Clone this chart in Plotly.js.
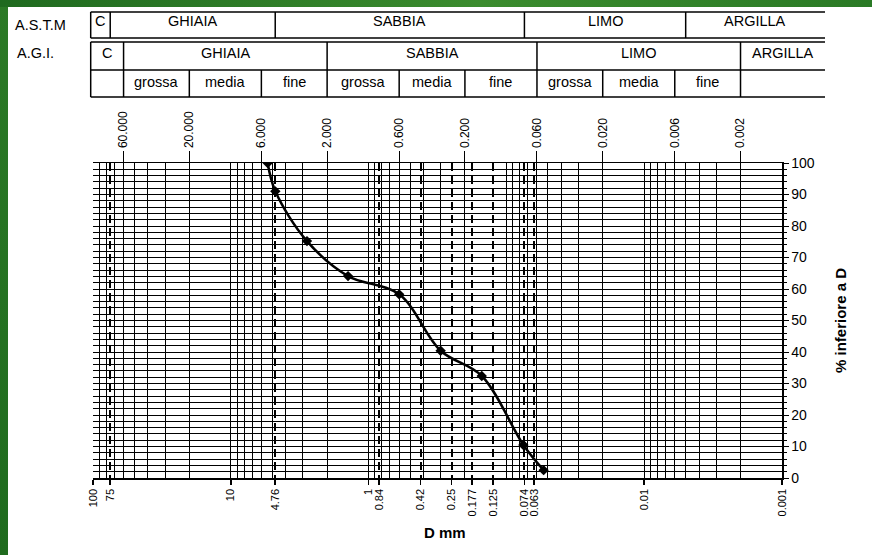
<!DOCTYPE html>
<html><head><meta charset="utf-8">
<script src="https://cdn.plot.ly/plotly-3.0.1.min.js"></script>
<style>
html,body{margin:0;padding:0;background:#fff;}
#wrap{position:relative;width:872px;height:555px;overflow:hidden;}
#chart{position:absolute;left:0;top:0;width:872px;height:555px;}
#gl{position:absolute;left:0;top:0;width:8px;height:555px;background:linear-gradient(#2c7a26,#1f6b1e);z-index:5}
#gt{position:absolute;left:0;top:0;width:872px;height:7px;background:linear-gradient(90deg,#1f6a1f,#3b8c2e 55%,#2a7a25);z-index:5}
</style></head><body>
<div id="wrap"><div id="chart"></div><div id="gl"></div><div id="gt"></div></div>
<script>
// ---- data ----
const diam    = [5.4, 4.75, 2.8, 1.41, 0.6, 0.3, 0.151, 0.0753, 0.0537];
const passing = [100, 91, 75.2, 64.1, 58.3, 40.4, 32.4, 10.5, 2.5];

const sieveVals = [100, 75, 10, 4.76, 1, 0.84, 0.42, 0.25, 0.177, 0.125, 0.074, 0.063, 0.01, 0.001];
const sieveText = ['100','75','10','4.76','1','0.84','0.42','0.25','0.177','0.125','0.074','0.063','0.01','0.001'];
const sieveDashed = [75, 4.76, 0.84, 0.42, 0.25, 0.177, 0.125, 0.074, 0.063];
const topVals = [60, 20, 6, 2, 0.6, 0.2, 0.06, 0.02, 0.006, 0.002];
const topText = ['60.000','20.000','6.000','2.000','0.600','0.200','0.060','0.020','0.006','0.002'];

const astmLabels = ['C','GHIAIA','SABBIA','LIMO','ARGILLA'];
const astmBounds = [75, 4.76, 0.074, 0.005];
const agiLabels = ['C','GHIAIA','SABBIA','LIMO','ARGILLA'];
const agiBounds = [60, 2, 0.06, 0.002];
const agiSubLabels = ['','grossa','media','fine','grossa','media','fine','grossa','media','fine',''];
const agiSubBounds = [60, 20, 6, 2, 0.6, 0.2, 0.06, 0.02, 0.006, 0.002];

// log grid positions
const gridVals = [];
for (let e = -3; e <= 1; e++) for (let k = 1; k <= 9; k++) gridVals.push(Number((k*Math.pow(10,e)).toPrecision(3)));
gridVals.push(100);

// ---- geometry helpers (plot area in pixels) ----
const W=872,H=555,L=93,R=782,T=163,B=478;
const px = x => (x-L)/(R-L);
const py = y => (B-y)/(B-T);
const dx = D => (2-Math.log10(D))/5;
const TL = px(90.7), TR = px(825);
const FS = 14.5;

const shapes = [];
const ann = [];
const line = (x0,y0,x1,y1) => shapes.push({type:'line',xref:'paper',yref:'paper',x0:x0,y0:y0,x1:x1,y1:y1,line:{color:'#000',width:1.5}});
const txt = (x,y,t,size,extra) => ann.push(Object.assign({xref:'paper',yref:'paper',x:x,y:y,text:t,showarrow:false,xanchor:'center',yanchor:'middle',font:{size:size,color:'#000'}},extra||{}));

// Row 1 ASTM
line(TL,py(12),TR,py(12)); line(TL,py(38),TR,py(38));
line(TL,py(12),TL,py(38));
astmBounds.forEach(b=>line(dx(b),py(12),dx(b),py(38)));
{
  const edges=[TL,...astmBounds.map(dx),TR];
  astmLabels.forEach((t,i)=>txt((edges[i]+edges[i+1])/2,py(21),t,FS));
}
// Row 2 AGI
line(TL,py(42),TR,py(42)); line(TL,py(70),TR,py(70)); line(TL,py(97),TR,py(97));
line(TL,py(42),TL,py(97));
agiBounds.forEach(b=>line(dx(b),py(42),dx(b),py(70)));
{
  const edges=[TL,...agiBounds.map(dx),TR];
  agiLabels.forEach((t,i)=>txt((edges[i]+edges[i+1])/2,py(53),t,FS));
}
agiSubBounds.forEach(b=>line(dx(b),py(70),dx(b),py(97)));
{
  const edges=[TL,...agiSubBounds.map(dx),TR];
  agiSubLabels.forEach((t,i)=>{ if(t) txt((edges[i]+edges[i+1])/2,py(82),t,FS); });
}
txt(px(40),py(25),'A.S.T.M',FS);
txt(px(35),py(53),'A.G.I.',FS);
// axis titles
txt(px(445),py(532),'<b>D mm</b>',15);
txt(px(840),py(321),'<b>% inferiore a D</b>',15,{textangle:-90});

const traces = [
  {x:diam, y:passing, xaxis:'x', yaxis:'y', mode:'lines+markers', type:'scatter',
   line:{shape:'spline', smoothing:1, color:'#000', width:2.5},
   marker:{symbol:'diamond', size:8, color:'#000'}, hoverinfo:'x+y', showlegend:false},
  {x:diam, y:passing, xaxis:'x2', yaxis:'y', mode:'markers', type:'scatter',
   marker:{opacity:0}, hoverinfo:'skip', showlegend:false},
  {x:diam, y:passing, xaxis:'x3', yaxis:'y', mode:'markers', type:'scatter',
   marker:{opacity:0}, hoverinfo:'skip', showlegend:false}
];

const layout = {
  width:W, height:H,
  margin:{l:L, r:W-R, t:T, b:H-B, pad:0},
  paper_bgcolor:'#fff', plot_bgcolor:'#fff',
  font:{family:'Liberation Sans, Arial, sans-serif', color:'#000'},
  showlegend:false,
  xaxis:{type:'log', range:[2,-3], tickmode:'array', tickvals:sieveVals, ticktext:sieveText,
    tickangle:-90, tickfont:{size:11}, ticks:'outside', ticklen:5, tickcolor:'#000', tickwidth:1.5,
    showline:true, linecolor:'#000', linewidth:1.5,
    showgrid:false, zeroline:false},
  xaxis2:{type:'log', range:[2,-3], overlaying:'x', side:'top', anchor:'y',
    tickmode:'array', tickvals:topVals, ticktext:topText, tickangle:-90, tickfont:{size:12},
    ticks:'outside', ticklen:11, tickcolor:'#000',
    showline:true, linecolor:'#000', linewidth:1.5,
    showgrid:true, gridcolor:'#000', gridwidth:1, zeroline:false,
    minor:{tickmode:'array', tickvals:gridVals, showgrid:true, gridcolor:'#000', gridwidth:1, ticks:''}},
  xaxis3:{type:'log', range:[2,-3], overlaying:'x', side:'bottom', anchor:'y',
    tickmode:'array', tickvals:sieveDashed, showticklabels:false, ticks:'', showline:false,
    showgrid:true, gridcolor:'#000', gridwidth:2, griddash:'8px,5px', zeroline:false},
  yaxis:{range:[0,100], side:'right', tick0:0, dtick:10, ticks:'outside', ticklen:5, tickcolor:'#000',
    tickfont:{size:14}, showline:true, linecolor:'#000', linewidth:1.5,
    showgrid:true, gridcolor:'#000', gridwidth:1, zeroline:false,
    minor:{dtick:2, showgrid:true, gridcolor:'#000', gridwidth:1, ticks:'outside', ticklen:3, tickcolor:'#000'}},
  shapes:shapes,
  annotations:ann
};
Plotly.newPlot('chart', traces, layout, {displayModeBar:false, staticPlot:true});
</script></body></html>
